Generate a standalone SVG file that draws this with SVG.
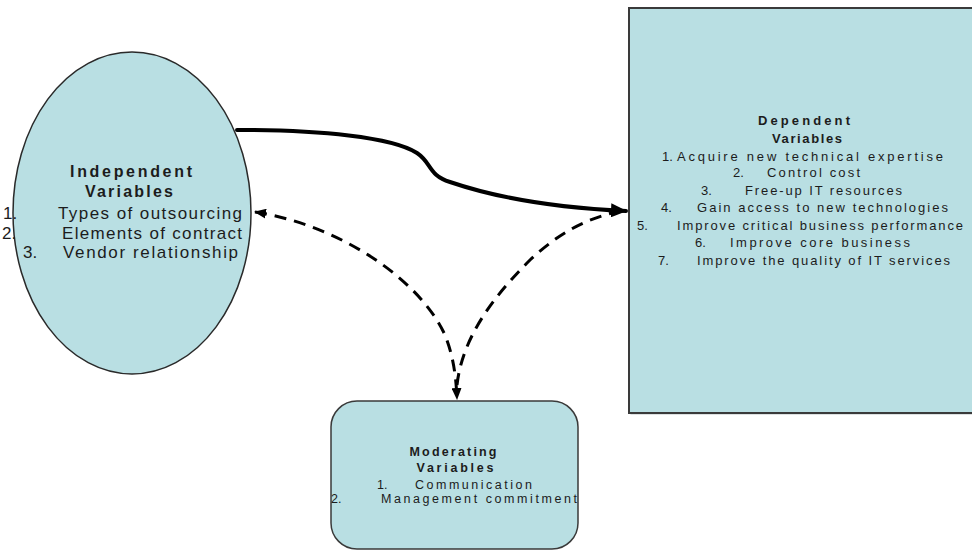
<svg xmlns="http://www.w3.org/2000/svg" width="972" height="552" viewBox="0 0 972 552">
<style>
.node{fill:#b9dfe3;}
.t{font-family:"Liberation Sans",Arial,sans-serif;fill:#1c1c1c;}
.ind{font-size:17px;}
.indh{font-size:16px;}
.dep{font-size:13px;}
.mod{font-size:12.5px;}
.b{font-weight:bold;}
.solid{fill:none;stroke:#000;stroke-width:4;stroke-linecap:round;}
.dash{fill:none;stroke:#000;stroke-width:3;stroke-dasharray:12 8;}
</style>
<defs>
<marker id="ah" markerUnits="userSpaceOnUse" markerWidth="16" markerHeight="14" refX="15" refY="7" orient="auto">
<path d="M0,0 L16,7 L0,14 Z" fill="#000"/>
</marker>
<marker id="ahs" markerUnits="userSpaceOnUse" markerWidth="12" markerHeight="10" refX="11" refY="5" orient="auto-start-reverse">
<path d="M0,0 L12,5 L0,10 Z" fill="#000"/>
</marker>
</defs>
<rect width="972" height="552" fill="#fff"/>

<g id="independent">
<ellipse class="node" cx="132" cy="213" rx="119" ry="161" stroke="#2a2a2a" stroke-width="1.5"/>
<text class="t indh b" x="131" y="177" text-anchor="middle" textLength="122" lengthAdjust="spacing">Independent</text>
<text class="t indh b" x="129" y="197" text-anchor="middle" textLength="88" lengthAdjust="spacing">Variables</text>
<text class="t ind" y="219"><tspan x="3">1.</tspan><tspan x="58" textLength="184" lengthAdjust="spacing">Types of outsourcing</tspan></text>
<text class="t ind" y="239"><tspan x="2">2.</tspan><tspan x="62" textLength="180" lengthAdjust="spacing">Elements of contract</tspan></text>
<text class="t ind" y="258"><tspan x="23">3.</tspan><tspan x="63" textLength="175" lengthAdjust="spacing">Vendor relationship</tspan></text>
</g>

<g id="dependent">
<rect x="629" y="8" width="360" height="405" fill="#7a8a8c" transform="translate(1.5,1.5)" opacity="0.5"/>
<rect class="node" x="629" y="8" width="360" height="405" stroke="#3a3a3a" stroke-width="2"/>
<text class="t dep b" x="804" y="125" text-anchor="middle" textLength="92" lengthAdjust="spacing">Dependent</text>
<text class="t dep b" x="807" y="143" text-anchor="middle" textLength="70" lengthAdjust="spacing">Variables</text>
<text class="t dep" y="161"><tspan x="662">1.</tspan><tspan x="677" textLength="266" lengthAdjust="spacing">Acquire new technical expertise</tspan></text>
<text class="t dep" y="177"><tspan x="733">2.</tspan><tspan x="767" textLength="93" lengthAdjust="spacing">Control cost</tspan></text>
<text class="t dep" y="195"><tspan x="701">3.</tspan><tspan x="745" textLength="157" lengthAdjust="spacing">Free-up IT resources</tspan></text>
<text class="t dep" y="212"><tspan x="661">4.</tspan><tspan x="697" textLength="251" lengthAdjust="spacing">Gain access to new technologies</tspan></text>
<text class="t dep" y="230"><tspan x="637">5.</tspan><tspan x="677" textLength="286" lengthAdjust="spacing">Improve critical business performance</tspan></text>
<text class="t dep" y="247"><tspan x="695">6.</tspan><tspan x="730" textLength="180" lengthAdjust="spacing">Improve core business</tspan></text>
<text class="t dep" y="265"><tspan x="658">7.</tspan><tspan x="697" textLength="253" lengthAdjust="spacing">Improve the quality of IT services</tspan></text>
</g>

<g id="moderating">
<rect class="node" x="331" y="401" width="247" height="148" rx="26" ry="26" stroke="#3a3a3a" stroke-width="1.5"/>
<text class="t mod b" x="453" y="456" text-anchor="middle" textLength="87" lengthAdjust="spacing">Moderating</text>
<text class="t mod b" x="455" y="472" text-anchor="middle" textLength="77" lengthAdjust="spacing">Variables</text>
<text class="t mod" y="489"><tspan x="377">1.</tspan><tspan x="415" textLength="117" lengthAdjust="spacing">Communication</tspan></text>
<text class="t mod" y="503"><tspan x="331">2.</tspan><tspan x="381" textLength="196" lengthAdjust="spacing">Management commitment</tspan></text>
</g>

<g id="connectors">
<path class="solid" d="M237,130 C320,130 392,137 417,153 C432,163 428,175 450,182 C497,198 560,208 626,211" marker-end="url(#ah)"/>
<path class="dash" d="M255,212 C340,225 420,280 445,335 C453,355 456,375 457,399" marker-start="url(#ahs)" marker-end="url(#ahs)"/>
<path class="dash" d="M457,385 C462,340 490,300 530,260 C560,232 585,220 612,213"/>
</g>
</svg>
